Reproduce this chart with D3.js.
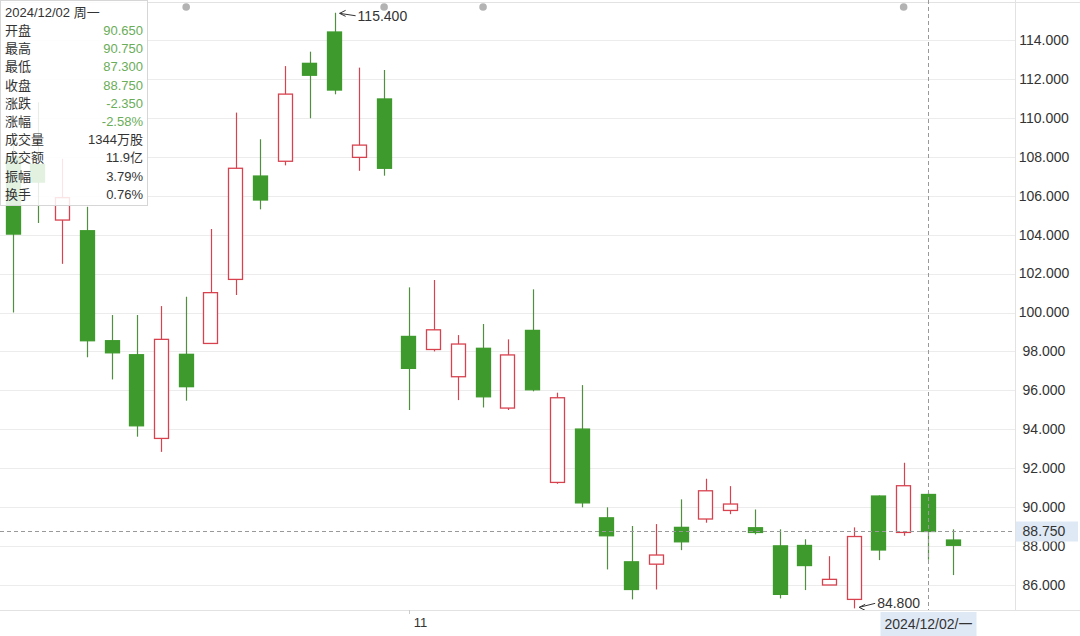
<!DOCTYPE html>
<html>
<head>
<meta charset="utf-8">
<script src="https://cdn.jsdelivr.net/npm/d3@7/dist/d3.min.js"></script>
<style>
  body { margin: 0; background: #fff; }
  svg { display: block; font-family: "Liberation Sans", Arial, "Noto Sans CJK SC", sans-serif; }
</style>
</head>
<body>
<div id="chart"></div>
<script>
// daily K-line data, 2024/10/10 .. 2024/12/03
var dates = ["2024/10/10","2024/10/11","2024/10/14","2024/10/15","2024/10/16","2024/10/17","2024/10/18","2024/10/21","2024/10/22","2024/10/23",
  "2024/10/24","2024/10/25","2024/10/28","2024/10/29","2024/10/30","2024/10/31","2024/11/01","2024/11/04","2024/11/05","2024/11/06",
  "2024/11/07","2024/11/08","2024/11/11","2024/11/12","2024/11/13","2024/11/14","2024/11/15","2024/11/18","2024/11/19","2024/11/20",
  "2024/11/21","2024/11/22","2024/11/25","2024/11/26","2024/11/27","2024/11/28","2024/11/29","2024/12/02","2024/12/03"];
var open  = [108.0,107.6,104.75,104.2,98.55,97.83,93.53,97.85,98.41,101.70,107.01,107.77,112.80,114.41,107.97,110.97,98.77,98.10,96.70,98.16,
  95.09,99.08,91.27,94.01,89.45,87.19,87.07,88.96,89.39,89.83,88.94,88.01,88.03,86.00,85.26,90.57,88.70,90.65,88.31];
var high  = [109.0,110.8,107.9,105.43,99.87,99.87,100.33,100.81,104.29,110.27,108.9,112.66,113.4,115.4,112.58,112.46,101.29,101.67,98.84,99.41,
  98.62,101.19,95.88,96.27,89.99,89.03,89.13,90.40,91.46,91.08,89.88,88.86,88.35,87.48,88.96,90.60,92.28,90.75,88.86];
var low   = [100.0,104.6,102.5,97.7,96.56,93.62,92.84,95.47,98.41,100.90,105.3,107.56,109.98,111.21,107.28,107.03,94.99,98.0,95.5,95.12,
  94.99,95.95,91.2,89.99,86.80,85.26,85.77,87.79,89.2,89.64,88.6,85.31,85.74,86.0,84.8,87.28,88.53,87.3,86.51];
var close = [104.03,106.7,105.9,98.55,97.93,94.18,98.62,96.19,101.02,107.41,105.78,111.22,112.19,111.43,108.60,107.41,97.13,99.11,98.38,95.67,
  97.82,96.03,95.62,90.22,88.53,85.77,87.54,88.22,90.84,90.16,88.70,85.52,87.00,86.29,88.49,87.80,91.10,88.75,88.04];

var yTicks = [86,88,90,92,94,96,98,100,102,104,106,108,110,112,114];
var monthTicks = [{date: "2024/11/01", label: "11"}];
var eventDates = ["2024/10/21","2024/10/31","2024/11/06","2024/11/29"];

var selDate = "2024/12/02";
var selLabel = "2024/12/02/一";
var infoTitle = "2024/12/02 周一";
var infoLabels = ["开盘","最高","最低","收盘","涨跌","涨幅","成交量","成交额","振幅","换手"];
var infoValues = ["90.650","90.750","87.300","88.750","-2.350","-2.58%","1344万股","11.9亿","3.79%","0.76%"];
var infoGreen  = [true,true,true,true,true,true,false,false,false,false];

var W = 1080, H = 636;
var plotR = 1015, plotT = 3, plotB = 610;
var upColor = "#d8424f", downColor = "#3e9a2c", downWick = "#4f8f3f";

var svg = d3.select("#chart").append("svg")
    .attr("width", W)
    .attr("height", H);

var step = 24.74;
var x = d3.scaleBand()
    .domain(dates)
    .range([13 - step / 2, 13 - step / 2 + step * dates.length])
    .paddingInner(0.4)
    .paddingOuter(0.2);
// keep centers on the measured spacing
var cx = function(d) { return x(d) + x.bandwidth() / 2; };

var y = d3.scaleLinear()
    .domain([86, 114])
    .range([585, 40]);

var data = dates.map(function(d, i) {
  return {date: d, open: open[i], high: high[i], low: low[i], close: close[i]};
});

svg.append("defs").append("clipPath").attr("id", "plot")
  .append("rect").attr("x", 0).attr("y", plotT).attr("width", plotR).attr("height", plotB - plotT);

// frame lines
svg.append("line").attr("x1", 0).attr("x2", W).attr("y1", 2.5).attr("y2", 2.5).attr("stroke", "#e2e2e2");
svg.append("line").attr("x1", 0).attr("x2", W).attr("y1", plotB + 0.5).attr("y2", plotB + 0.5).attr("stroke", "#e2e2e2");
svg.append("line").attr("x1", plotR + 0.5).attr("x2", plotR + 0.5).attr("y1", 0).attr("y2", plotB).attr("stroke", "#e2e2e2");

// grid
svg.append("g")
  .selectAll("line")
  .data(yTicks)
  .enter().append("line")
    .attr("x1", 0).attr("x2", plotR)
    .attr("y1", function(d) { return Math.round(y(d)) + 0.5; })
    .attr("y2", function(d) { return Math.round(y(d)) + 0.5; })
    .attr("stroke", "#ececec");

// right axis labels
svg.append("g")
  .selectAll("text")
  .data(yTicks)
  .enter().append("text")
    .attr("x", 1044)
    .attr("y", function(d) { return y(d); })
    .attr("dy", "0.35em")
    .attr("text-anchor", "middle")
    .attr("font-size", 14)
    .attr("fill", "#333")
    .text(function(d) { return d3.format(".3f")(d); });

// month ticks on bottom axis
var mt = svg.append("g").selectAll("g").data(monthTicks).enter().append("g");
mt.append("line")
  .attr("x1", function(d) { return Math.round(cx(d.date)) + 0.5; })
  .attr("x2", function(d) { return Math.round(cx(d.date)) + 0.5; })
  .attr("y1", plotB).attr("y2", plotB + 4)
  .attr("stroke", "#ccc");
mt.append("text")
  .attr("x", function(d) { return cx(d.date) + 5; })
  .attr("y", 627)
  .attr("font-size", 13)
  .attr("fill", "#333")
  .text(function(d) { return d.label; });

var plot = svg.append("g").attr("clip-path", "url(#plot)");

// candles
var candle = plot.selectAll(".candle")
  .data(data)
  .enter().append("g")
    .attr("class", "candle");

candle.append("line")
  .attr("x1", function(d) { return Math.round(cx(d.date)) + 0.5; })
  .attr("x2", function(d) { return Math.round(cx(d.date)) + 0.5; })
  .attr("y1", function(d) { return y(d.high); })
  .attr("y2", function(d) { return y(d.low); })
  .attr("stroke", function(d) { return d.close >= d.open ? upColor : downWick; })
  .attr("stroke-width", 1.2);

candle.append("rect")
  .attr("x", function(d) { return Math.round(x(d.date)) + 0.5; })
  .attr("width", Math.round(x.bandwidth()) - 1)
  .attr("y", function(d) { return y(Math.max(d.open, d.close)); })
  .attr("height", function(d) { return Math.max(1, Math.abs(y(d.open) - y(d.close))); })
  .attr("fill", function(d) { return d.close >= d.open ? "#fff" : downColor; })
  .attr("stroke", function(d) { return d.close >= d.open ? upColor : downColor; })
  .attr("stroke-width", 1.3);

// max / min markers
var iMax = d3.maxIndex(high), iMin = d3.minIndex(low);
function marker(i, val, dy) {
  var px = cx(dates[i]) + 3, py = y(val);
  var g = plot.append("g");
  g.append("line")
    .attr("x1", px + 2).attr("y1", py + dy * 0.2)
    .attr("x2", px + 18).attr("y2", py + dy)
    .attr("stroke", "#333").attr("stroke-width", 1);
  g.append("path")
    .attr("d", "M" + (px + 8) + "," + (py - 3 + dy * 0.2) + "L" + (px + 2) + "," + (py + dy * 0.2) + "L" + (px + 8) + "," + (py + 3 + dy * 0.2))
    .attr("fill", "none").attr("stroke", "#333").attr("stroke-width", 1);
  g.append("text")
    .attr("x", px + 20).attr("y", py + dy)
    .attr("dy", "0.35em")
    .attr("font-size", 14).attr("fill", "#333")
    .text(d3.format(".3f")(val));
}
marker(iMax, high[iMax], 3);
marker(iMin, low[iMin], -5);

// event dots at top
svg.append("g").selectAll("circle")
  .data(eventDates)
  .enter().append("circle")
    .attr("cx", function(d) { return cx(d); })
    .attr("cy", 7)
    .attr("r", 3.8)
    .attr("fill", "#b3b3b3");

// crosshair
var selI = dates.indexOf(selDate);
var selX = Math.round(cx(selDate)) + 0.5;
var selY = Math.round(y(close[selI])) + 0.5;
svg.append("line")
  .attr("x1", 0).attr("x2", plotR).attr("y1", selY).attr("y2", selY)
  .attr("stroke", "#999").attr("stroke-dasharray", "4,3");
svg.append("line")
  .attr("x1", selX).attr("x2", selX).attr("y1", 0).attr("y2", plotB)
  .attr("stroke", "#999").attr("stroke-dasharray", "4,3");

svg.append("rect")
  .attr("x", plotR + 1).attr("y", selY - 10).attr("width", 62).attr("height", 20)
  .attr("fill", "#dfe9f5");
svg.append("text")
  .attr("x", 1044).attr("y", selY)
  .attr("dy", "0.35em").attr("text-anchor", "middle")
  .attr("font-size", 14).attr("fill", "#333")
  .text(d3.format(".3f")(close[selI]));

svg.append("rect")
  .attr("x", selX - 48).attr("y", plotB + 2).attr("width", 96).attr("height", 24)
  .attr("fill", "#dfe9f5");
svg.append("text")
  .attr("x", selX).attr("y", plotB + 14)
  .attr("dy", "0.35em").attr("text-anchor", "middle")
  .attr("font-size", 14).attr("fill", "#333")
  .text(selLabel);

// info box
var info = svg.append("g");
info.append("rect")
  .attr("x", 0.5).attr("y", 0.5).attr("width", 147).attr("height", 205)
  .attr("fill", "#fff").attr("fill-opacity", 0.86)
  .attr("stroke", "#d6d6d6");
info.append("text")
  .attr("x", 5).attr("y", 17)
  .attr("font-size", 13).attr("fill", "#333")
  .text(infoTitle);
info.selectAll(".lbl")
  .data(infoLabels)
  .enter().append("text")
    .attr("class", "lbl")
    .attr("x", 5)
    .attr("y", function(d, i) { return 35 + i * 18.2; })
    .attr("font-size", 13).attr("fill", "#333")
    .text(function(d) { return d; });
info.selectAll(".val")
  .data(infoValues)
  .enter().append("text")
    .attr("class", "val")
    .attr("x", 143)
    .attr("y", function(d, i) { return 35 + i * 18.2; })
    .attr("text-anchor", "end")
    .attr("font-size", 13)
    .attr("fill", function(d, i) { return infoGreen[i] ? "#6aad58" : "#333"; })
    .text(function(d) { return d; });
</script>
</body>
</html>
